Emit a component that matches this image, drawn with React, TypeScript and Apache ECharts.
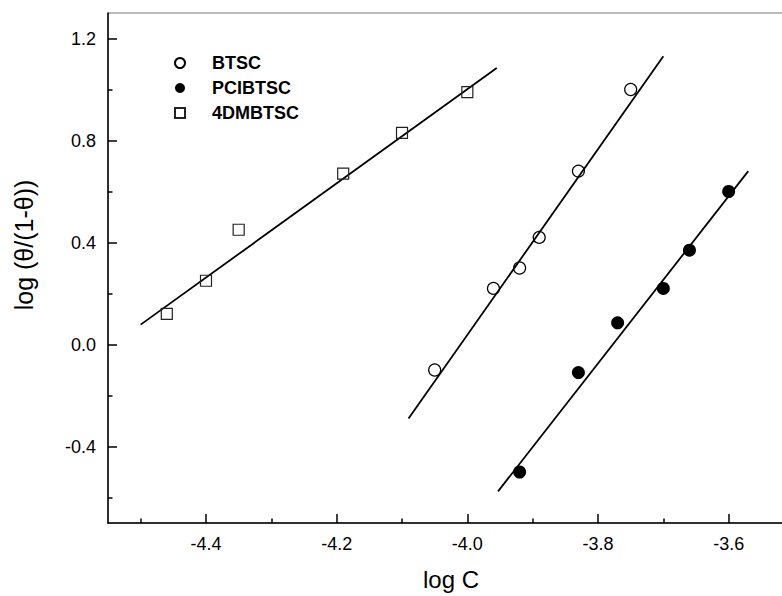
import React, { useEffect, useRef } from "react";
import * as echarts from "echarts";

// Scatter data (log C, log(θ/(1-θ)))
const btscX = [-4.05, -3.96, -3.92, -3.89, -3.83, -3.75];
const btscY = [-0.1, 0.22, 0.3, 0.42, 0.68, 1.0];
const pciX = [-3.92, -3.83, -3.77, -3.7, -3.66, -3.6];
const pciY = [-0.5, -0.11, 0.085, 0.22, 0.37, 0.6];
const dmX = [-4.46, -4.4, -4.35, -4.19, -4.1, -4.0];
const dmY = [0.12, 0.25, 0.45, 0.67, 0.83, 0.99];

// Linear fit line end points
const btscFitX = [-4.09, -3.7];
const btscFitY = [-0.29, 1.13];
const pciFitX = [-3.953, -3.57];
const pciFitY = [-0.576, 0.68];
const dmFitX = [-4.5, -3.955];
const dmFitY = [0.078, 1.084];

// Ticks
const xMajor = [-4.4, -4.2, -4.0, -3.8, -3.6];
const xMinor = [-4.5, -4.3, -4.1, -3.9, -3.7, -3.5];
const yMajor = [-0.4, 0, 0.4, 0.8, 1.2];
const yMinor = [-0.6, -0.2, 0.2, 0.6, 1.0];

const seriesNames = ["BTSC", "PCIBTSC", "4DMBTSC"];
const xTitle = "log C";
const yTitle = "log (θ/(1-θ))";

const FONT = '"Liberation Sans", Arial, Helvetica, sans-serif';

const zip = (xs: number[], ys: number[]) => xs.map((x, i) => [x, ys[i]]);

export default function App() {
  const ref = useRef<HTMLDivElement>(null);
  useEffect(() => {
    const chart = echarts.init(ref.current!, null, { renderer: "svg" });
    const xMin = -4.55;
    const xMax = -3.5;
    const yMin = -0.7;
    const yMax = 1.3;
    const axisLineStyle = { color: "#000", width: 1.5 };
    const fmt = (v: number) => Number(v).toFixed(1);
    const option: any = {
      animation: false,
      backgroundColor: "#fff",
      grid: {
        left: 108,
        top: 13,
        right: 6,
        bottom: 72,
        show: true,
        borderColor: "#777",
        borderWidth: 1,
        backgroundColor: "transparent",
      },
      legend: {
        orient: "vertical",
        left: 169,
        top: 49,
        itemWidth: 10,
        itemHeight: 10,
        itemGap: 7,
        textStyle: {
          fontFamily: FONT,
          fontSize: 18,
          fontWeight: "bold",
          color: "#000",
          lineHeight: 18,
          padding: [0, 0, 0, 22],
        },
        data: [
          { name: seriesNames[0], icon: "circle" },
          { name: seriesNames[1], icon: "circle" },
          { name: seriesNames[2], icon: "rect" },
        ],
      },
      xAxis: [
        {
          type: "value",
          min: xMin,
          max: xMax,
          position: "bottom",
          axisLine: { show: true, onZero: false, lineStyle: axisLineStyle },
          axisTick: {
            show: true,
            inside: true,
            length: 9,
            customValues: xMajor,
            lineStyle: axisLineStyle,
          },
          axisLabel: {
            customValues: xMajor,
            formatter: fmt,
            fontSize: 18,
            fontFamily: FONT,
            color: "#000",
            margin: 12,
          },
          splitLine: { show: false },
          name: xTitle,
          nameLocation: "middle",
          nameGap: 44,
          nameTextStyle: { fontSize: 24, fontFamily: FONT, color: "#000" },
        },
        {
          type: "value",
          min: xMin,
          max: xMax,
          position: "bottom",
          axisLine: { show: false, onZero: false },
          axisTick: {
            show: true,
            inside: true,
            length: 4.5,
            customValues: xMinor,
            lineStyle: axisLineStyle,
          },
          axisLabel: { show: false },
          splitLine: { show: false },
        },
      ],
      yAxis: [
        {
          type: "value",
          min: yMin,
          max: yMax,
          position: "left",
          axisLine: { show: true, onZero: false, lineStyle: axisLineStyle },
          axisTick: {
            show: true,
            inside: true,
            length: 9,
            customValues: yMajor,
            lineStyle: axisLineStyle,
          },
          axisLabel: {
            customValues: yMajor,
            formatter: fmt,
            fontSize: 18,
            fontFamily: FONT,
            color: "#000",
            margin: 12,
          },
          splitLine: { show: false },
        },
        {
          type: "value",
          min: yMin,
          max: yMax,
          position: "left",
          axisLine: { show: false, onZero: false },
          axisTick: {
            show: true,
            inside: true,
            length: 4.5,
            customValues: yMinor,
            lineStyle: axisLineStyle,
          },
          axisLabel: { show: false },
          splitLine: { show: false },
        },
      ],
      graphic: [
        {
          type: "text",
          x: 24,
          y: 245,
          rotation: Math.PI / 2,
          style: {
            text: yTitle,
            font: `25px ${FONT}`,
            fill: "#000",
            textAlign: "center",
            textVerticalAlign: "middle",
          },
        },
      ],
      series: [
        {
          type: "line",
          data: zip(btscFitX, btscFitY),
          symbol: "none",
          lineStyle: { color: "#000", width: 1.8 },
          silent: true,
          z: 2,
        },
        {
          type: "line",
          data: zip(pciFitX, pciFitY),
          symbol: "none",
          lineStyle: { color: "#000", width: 1.8 },
          silent: true,
          z: 2,
        },
        {
          type: "line",
          data: zip(dmFitX, dmFitY),
          symbol: "none",
          lineStyle: { color: "#000", width: 1.8 },
          silent: true,
          z: 2,
        },
        {
          name: seriesNames[0],
          type: "scatter",
          data: zip(btscX, btscY),
          symbol: "circle",
          symbolSize: 12,
          itemStyle: { color: "rgba(255,255,255,0)", borderColor: "#000", borderWidth: 1.2, opacity: 1 },
          z: 3,
        },
        {
          name: seriesNames[1],
          type: "scatter",
          data: zip(pciX, pciY),
          symbol: "circle",
          symbolSize: 13,
          itemStyle: { color: "#000", borderColor: "#000", borderWidth: 0, opacity: 1 },
          z: 3,
        },
        {
          name: seriesNames[2],
          type: "scatter",
          data: zip(dmX, dmY),
          symbol: "rect",
          symbolSize: 11,
          itemStyle: { color: "rgba(255,255,255,0)", borderColor: "#222", borderWidth: 1.2, opacity: 1 },
          z: 3,
        },
      ],
    };
    chart.setOption(option);
    return () => chart.dispose();
  }, []);
  return (
    <div
      style={{
        position: "fixed",
        left: 0,
        top: 0,
        width: 782,
        height: 596,
        overflow: "hidden",
        background: "#fff",
      }}
    >
      <div ref={ref} style={{ width: 800, height: 596 }} />
    </div>
  );
}
